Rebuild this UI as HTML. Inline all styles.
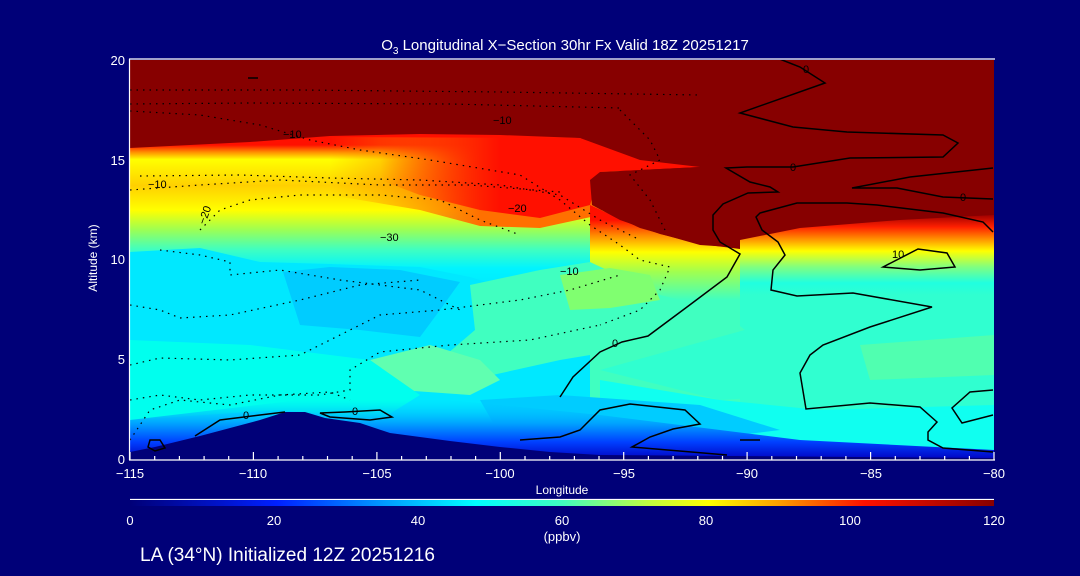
<!DOCTYPE html>
<html><head><meta charset="utf-8"><style>
html,body{margin:0;padding:0;background:#000078;}
svg{display:block}
text{font-family:"Liberation Sans",sans-serif;fill:#fff}
</style></head><body>
<svg width="1080" height="576" viewBox="0 0 1080 576" xmlns="http://www.w3.org/2000/svg">
<defs>
<linearGradient id="lg" gradientUnits="userSpaceOnUse" x1="0" y1="145" x2="0" y2="290">
<stop offset="0" stop-color="#ff1000"/>
<stop offset="0.05" stop-color="#ff9000"/>
<stop offset="0.1" stop-color="#ffff00"/>
<stop offset="0.28" stop-color="#ffd000"/>
<stop offset="0.45" stop-color="#ffff00"/>
<stop offset="0.58" stop-color="#a0ff50"/>
<stop offset="0.72" stop-color="#40ffc0"/>
<stop offset="0.85" stop-color="#00f4ff"/>
<stop offset="1" stop-color="#00e8ff"/>
</linearGradient>
<linearGradient id="rg" gradientUnits="userSpaceOnUse" x1="0" y1="215" x2="0" y2="295">
<stop offset="0" stop-color="#a00000"/>
<stop offset="0.15" stop-color="#ff2000"/>
<stop offset="0.3" stop-color="#ff9000"/>
<stop offset="0.45" stop-color="#ffff00"/>
<stop offset="0.65" stop-color="#80ff80"/>
<stop offset="0.85" stop-color="#20ffe0"/>
<stop offset="1" stop-color="#30ffd0"/>
</linearGradient>
<linearGradient id="mg" gradientUnits="userSpaceOnUse" x1="0" y1="220" x2="0" y2="300">
<stop offset="0" stop-color="#ff1000"/>
<stop offset="0.2" stop-color="#ff9000"/>
<stop offset="0.4" stop-color="#ffff00"/>
<stop offset="0.65" stop-color="#a0ff50"/>
<stop offset="1" stop-color="#40ffc0"/>
</linearGradient>
<linearGradient id="og" gradientUnits="userSpaceOnUse" x1="330" y1="0" x2="480" y2="0">
<stop offset="0" stop-color="#ff8000" stop-opacity="0"/>
<stop offset="1" stop-color="#ff7000"/>
</linearGradient>
<linearGradient id="tg" gradientUnits="userSpaceOnUse" x1="380" y1="0" x2="500" y2="0">
<stop offset="0" stop-color="#ff1000" stop-opacity="0"/>
<stop offset="1" stop-color="#ff1000"/>
</linearGradient>
<linearGradient id="sg" gradientUnits="userSpaceOnUse" x1="0" y1="400" x2="0" y2="460">
<stop offset="0" stop-color="#00d0ff" stop-opacity="0"/>
<stop offset="0.4" stop-color="#00a0ff"/>
<stop offset="0.7" stop-color="#0040ff"/>
<stop offset="1" stop-color="#0000c0"/>
</linearGradient>
<linearGradient id="cb" x1="0" y1="0" x2="1" y2="0">
<stop offset="0" stop-color="#000078"/>
<stop offset="0.17" stop-color="#0020ff"/>
<stop offset="0.3" stop-color="#00a0ff"/>
<stop offset="0.4" stop-color="#00ffff"/>
<stop offset="0.5" stop-color="#40ffc0"/>
<stop offset="0.6" stop-color="#c0ff40"/>
<stop offset="0.67" stop-color="#ffff00"/>
<stop offset="0.75" stop-color="#ffa000"/>
<stop offset="0.85" stop-color="#ff1000"/>
<stop offset="1" stop-color="#870000"/>
</linearGradient>
<clipPath id="pc"><rect x="130" y="60" width="864" height="400"/></clipPath>
</defs>

<g clip-path="url(#pc)">
<rect x="130" y="60" width="864" height="400" fill="#870000"/>
<polygon fill="url(#lg)" points="130,148 250,142 330,136 420,134 500,135 580,138 610,160 610,460 130,460"/>
<polygon fill="url(#og)" points="330,137 580,138 620,170 600,215 540,228 480,226 420,210 330,195"/>
<polygon fill="url(#tg)" points="380,136 580,138 640,160 700,167 600,172 590,205 540,218 480,210 420,195 380,180"/>
<polygon fill="url(#mg)" points="590,205 640,228 700,245 745,248 745,460 590,460"/>
<polygon fill="#870000" points="600,172 700,167 740,110 760,110 760,240 740,249 700,244 660,234 620,220 592,205 590,180"/>
<polygon fill="url(#rg)" points="740,240 800,228 900,220 994,215 994,460 740,460"/>
<!-- lower fields -->
<polygon fill="#00e8ff" points="130,252 200,248 260,262 330,264 420,267 470,277 520,292 470,340 400,360 300,350 200,345 130,340"/>
<polygon fill="#00ccff" points="283,272 330,267 400,270 460,282 440,310 420,337 360,330 300,325"/>
<polygon fill="#40ffc0" points="470,285 540,270 590,262 660,295 720,310 745,330 690,345 620,350 560,360 470,380 440,360 475,330"/>
<polygon fill="#80ff70" points="560,275 610,268 650,275 660,300 610,308 570,310"/>
<polygon fill="#60ffb0" points="370,360 430,345 480,360 500,380 470,395 400,390"/>
<polygon fill="#00ffee" points="130,340 250,345 370,360 420,395 380,420 280,410 130,420"/>
<polygon fill="#30ffd0" points="745,300 994,295 994,400 900,395 800,395 720,400 640,380 600,370 690,345 745,330"/>
<polygon fill="#50ffb0" points="860,345 994,335 994,375 870,380"/>
<polygon fill="#10fff0" points="600,380 720,400 820,410 994,405 994,450 600,450"/>
<polygon fill="#00ccff" points="480,400 560,395 700,405 780,430 700,440 600,440 500,435"/>
<polygon fill="url(#sg)" points="130,420 300,400 450,400 600,415 800,440 994,450 994,460 130,460"/>
<polygon fill="#000078" points="130,452 155,447 200,436 260,420 285,412 305,412 325,418 360,423 390,433 450,441 500,447 550,452 600,455 994,458 994,461 130,461"/>

<g fill="none" stroke="#000" stroke-width="1.2" stroke-dasharray="1.5,5">
<path d="M130,90 L300,90 L500,92 L700,95"/>
<path d="M130,104 L250,103 L450,104 L620,108"/>
<path d="M130,111 L200,115 L260,125 L310,140 L360,150 L430,160 L520,175 L560,200 L590,225 L620,245 L640,260 L670,267 L660,290 L640,310 L600,325"/>
<path d="M140,176 L240,175 L330,178 L420,180 L500,185 L560,195 L600,220 L640,240"/>
<path d="M130,190 L200,185 L280,180 L380,185 L470,185 L560,192"/>
<path d="M200,230 L220,210 L250,200 L300,195 L380,195 L440,200 L480,220 L520,235"/>
<path d="M160,250 L200,255 L230,262 L230,275 L280,270 L340,280 L420,290 L460,310"/>
<path d="M130,305 L160,310 L180,318 L230,315 L300,300 L360,285 L420,280"/>
<path d="M130,365 L160,358 L230,360 L300,355 L340,335 L380,315 L440,310 L520,300 L570,290 L620,275"/>
<path d="M130,400 L160,395 L200,400 L250,395 L320,395 L350,390 L350,370 L380,352 L450,345 L530,340 L600,325"/>
<path d="M130,440 L150,410 L180,400 L230,405 L280,395 L330,392 L350,400"/>
<path d="M620,110 L650,140 L660,160 L630,175 L650,200 L665,230"/>
</g>
<g fill="none" stroke="#000" stroke-width="1.5">
<path d="M560,397 L573,377 L600,352 L622,342 L648,336 L687,307 L727,277 L740,254 L720,242 L713,230 L713,215 L723,204 L748,193 L778,192 L770,187 L750,182 L726,168 L747,167 L793,167 L850,158 L943,157 L958,143 L943,135 L847,132 L793,127 L740,113 L825,83 L800,67 L777,58"/>
<path d="M993,232 L983,222 L943,213 L877,205 L847,203 L797,203 L760,213 L756,217 L762,230 L778,242 L785,255 L773,270 L771,290 L797,296 L853,293 L932,307 L870,327 L823,345 L810,355 L800,373 L806,409 L870,403 L920,407 L937,422 L928,432 L928,440 L943,448 L993,452"/>
<path d="M993,168 L910,177 L852,188 L897,188 L943,197 L993,199"/>
<path d="M883,267 L918,249 L947,253 L955,267 L920,270 Z"/>
<path d="M520,440 L560,437 L580,430 L600,410 L630,404 L685,410 L700,424 L673,429 L650,437 L632,447 L727,455"/>
<path d="M993,390 L970,392 L952,408 L962,423 L993,415"/>
<path d="M195,436 L220,420 L260,415 L285,412"/>
<path d="M320,413 L345,412 L380,410 L392,417 L370,420 L330,417 Z"/>
<path d="M150,440 L160,440 L165,448 L155,451 L148,447 Z"/>
<path d="M740,440 L760,440"/>
<path d="M248,78 L258,78"/>
</g>
<g font-size="11">
<text x="283" y="138" style="fill:#000">−10</text>
<text x="148" y="188" style="fill:#000">−10</text>
<text x="493" y="124" style="fill:#000">−10</text>
<text x="380" y="241" style="fill:#000">−30</text>
<text x="508" y="212" style="fill:#000">−20</text>
<text x="560" y="275" style="fill:#000">−10</text>
<text x="892" y="258" style="fill:#000">10</text>
<text x="612" y="347" style="fill:#000">0</text>
<text x="790" y="171" style="fill:#000">0</text>
<text x="960" y="201" style="fill:#000">0</text>
<text x="243" y="419" style="fill:#000">0</text>
<text x="352" y="415" style="fill:#000">0</text>
<text x="803" y="73" style="fill:#000">0</text>
<text x="205" y="225" style="fill:#000" transform="rotate(-70 205 225)">−20</text>
</g>
</g>

<g stroke="#fff" stroke-width="1.2" fill="none">
<line x1="129" y1="59" x2="995" y2="59"/>
<line x1="129" y1="460" x2="995" y2="460"/>
<line x1="129.5" y1="59" x2="129.5" y2="460"/>
<path d="M130,460v-8 M253.4,460v-8 M376.9,460v-8 M500.3,460v-8 M623.7,460v-8 M747.1,460v-8 M870.6,460v-8 M994,460v-8"/>
<path d="M154.7,460v-4 M179.4,460v-4 M204.1,460v-4 M228.7,460v-4 M278.1,460v-4 M302.8,460v-4 M327.5,460v-4 M352.2,460v-4 M401.6,460v-4 M426.3,460v-4 M451,460v-4 M475.6,460v-4 M525,460v-4 M549.7,460v-4 M574.4,460v-4 M599,460v-4 M648.4,460v-4 M673.1,460v-4 M697.8,460v-4 M722.5,460v-4 M771.8,460v-4 M796.5,460v-4 M821.2,460v-4 M845.9,460v-4 M895.3,460v-4 M920,460v-4 M944.7,460v-4 M969.4,460v-4"/>
</g>
<g font-size="13" text-anchor="middle">
<text x="130" y="478">−115</text>
<text x="253" y="478">−110</text>
<text x="377" y="478">−105</text>
<text x="500" y="478">−100</text>
<text x="624" y="478">−95</text>
<text x="747" y="478">−90</text>
<text x="871" y="478">−85</text>
<text x="994" y="478">−80</text>
<text x="562" y="494" font-size="12">Longitude</text>
</g>
<g font-size="13" text-anchor="end">
<text x="125" y="65">20</text>
<text x="125" y="165">15</text>
<text x="125" y="264">10</text>
<text x="125" y="364">5</text>
<text x="125" y="464">0</text>
</g>
<text x="97" y="258" font-size="12" text-anchor="middle" transform="rotate(-90 97 258)">Altitude (km)</text>
<text x="565" y="50" font-size="15" text-anchor="middle">O<tspan font-size="10" dy="4">3</tspan><tspan dy="-4"> Longitudinal X−Section 30hr  Fx Valid 18Z 20251217</tspan></text>

<line x1="130" y1="499.5" x2="994" y2="499.5" stroke="#fff" stroke-width="1.2"/>
<rect x="130" y="500" width="864" height="6" fill="url(#cb)"/>
<g font-size="13" text-anchor="middle">
<text x="130" y="525">0</text>
<text x="274" y="525">20</text>
<text x="418" y="525">40</text>
<text x="562" y="525">60</text>
<text x="706" y="525">80</text>
<text x="850" y="525">100</text>
<text x="994" y="525">120</text>
<text x="562" y="541">(ppbv)</text>
</g>
<text x="140" y="561" font-size="19">LA (34°N) Initialized 12Z 20251216</text>
</svg>
</body></html>
